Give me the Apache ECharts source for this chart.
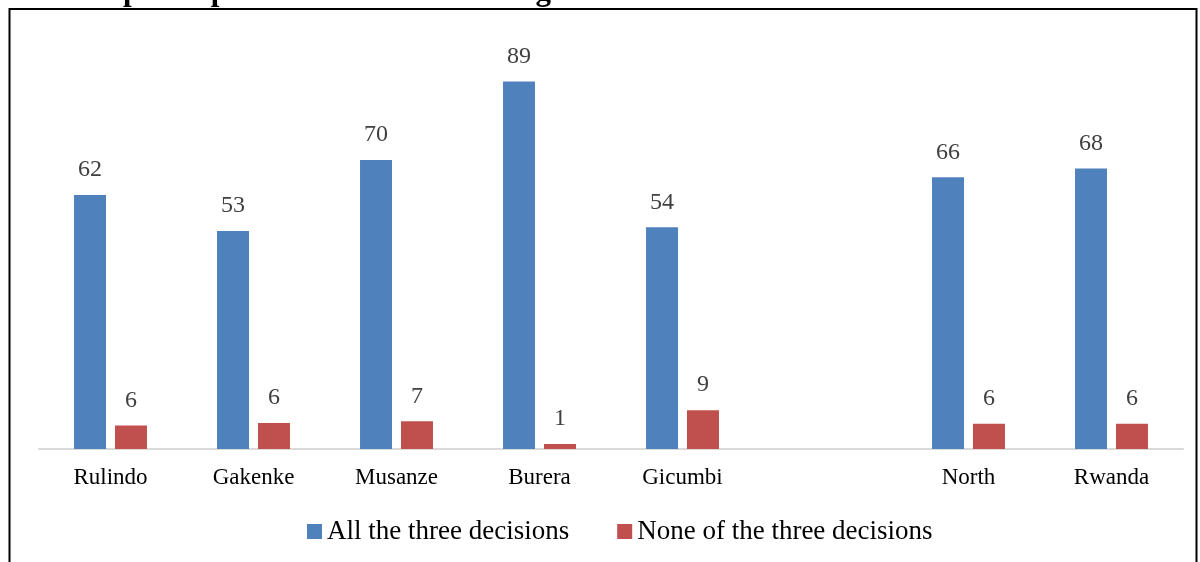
<!DOCTYPE html>
<html>
<head>
<meta charset="utf-8">
<script src="https://cdn.jsdelivr.net/npm/echarts@6/dist/echarts.min.js"></script>
<style>
html,body{margin:0;padding:0;background:#fff;}
#chart{width:1200px;height:562px;}
</style>
</head>
<body>
<div id="chart"></div>
<script>
const categories = ['Rulindo', 'Gakenke', 'Musanze', 'Burera', 'Gicumbi', '', 'North', 'Rwanda'];
const allThree = [61.5, 52.8, 70, 89, 53.7, '-', 65.8, 67.9];
const noneThree = [5.7, 6.3, 6.7, 1.2, 9.4, '-', 6.1, 6.1];
const seriesNames = ['All the three decisions', 'None of the three decisions'];
const titleText = 'participation in decision making.';

const chart = echarts.init(document.getElementById('chart'));
const labelStyle = {
  show: true, position: 'top', distance: 13,
  fontFamily: 'Liberation Serif', fontSize: 24, color: '#404040',
  formatter: p => Math.round(p.value)
};
chart.setOption({
  animation: false,
  graphic: [
    { type: 'rect', shape: { x: 9.5, y: 9, width: 1187, height: 600 },
      style: { fill: 'none', stroke: '#000', lineWidth: 2 } },
    { type: 'text', left: 123, top: -24,
      style: { text: titleText, font: 'bold 31px "Liberation Serif"', fill: '#000' } }
  ],
  legend: {
    left: 302, top: 513, itemWidth: 15, itemHeight: 15, itemGap: 48,
    icon: 'rect',
    textStyle: { fontFamily: 'Liberation Serif', fontSize: 27, color: '#000' },
    data: seriesNames
  },
  grid: { left: 39, right: 17, top: 36, bottom: 113 },
  xAxis: {
    type: 'category', data: categories,
    axisLine: { lineStyle: { color: '#d9d9d9', width: 2 } },
    axisTick: { show: false },
    axisLabel: { fontFamily: 'Liberation Serif', fontSize: 23, color: '#000', margin: 17 }
  },
  yAxis: { type: 'value', min: 0, max: 100, show: false, splitLine: { show: false } },
  series: [
    { name: seriesNames[0], type: 'bar', data: allThree, barWidth: 32, barGap: '28%',
      itemStyle: { color: '#4f81bd' }, label: labelStyle },
    { name: seriesNames[1], type: 'bar', data: noneThree, barWidth: 32,
      itemStyle: { color: '#c0504d' }, label: labelStyle }
  ]
});
</script>
</body>
</html>
